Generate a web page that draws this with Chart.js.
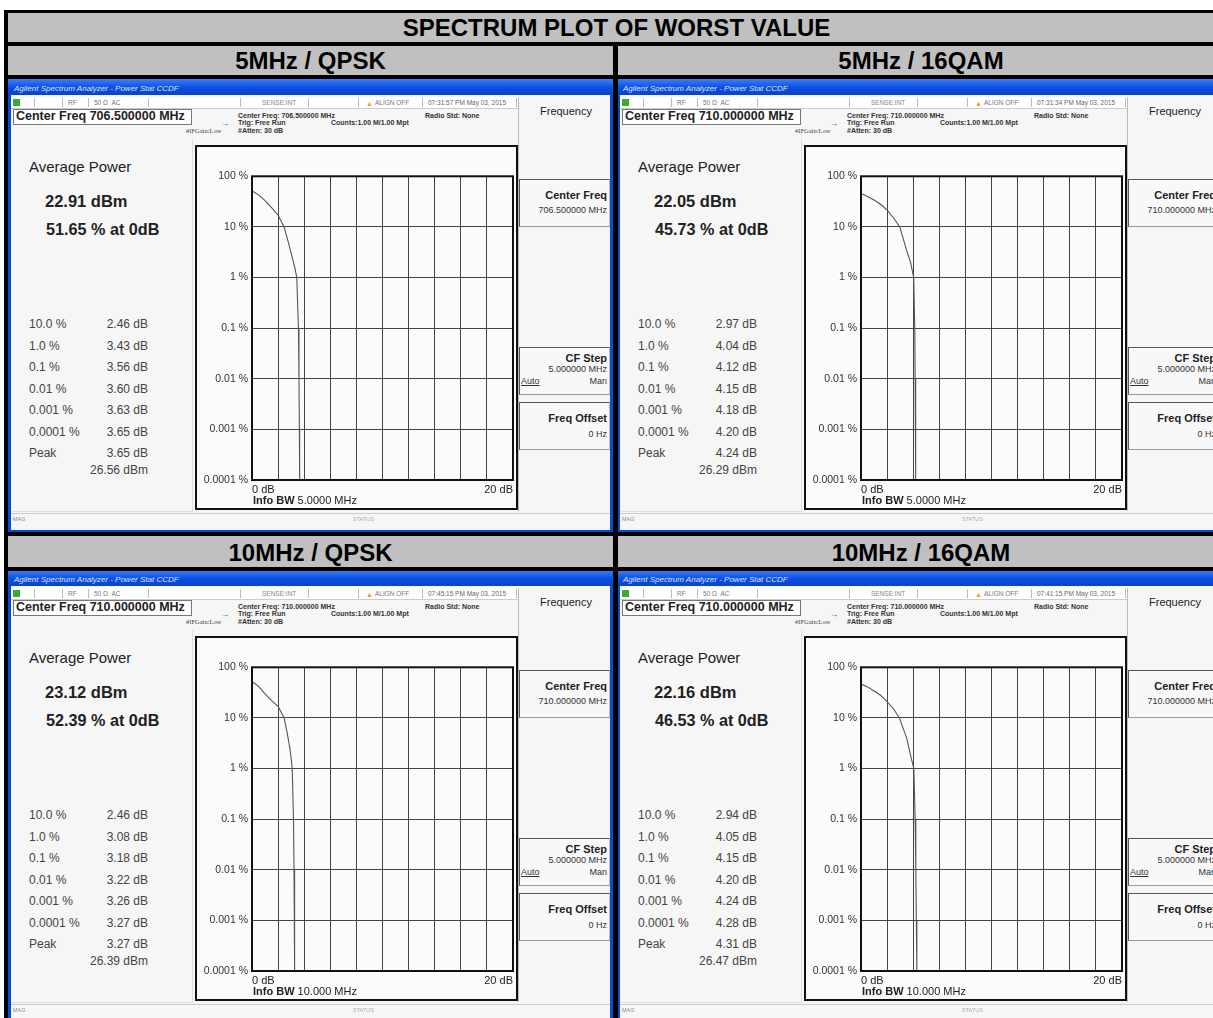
<!DOCTYPE html>
<html>
<head>
<meta charset="utf-8">
<script src="https://cdn.jsdelivr.net/npm/chart.js@4.4.1/dist/chart.umd.min.js"></script>
<style>
html, body { margin: 0; padding: 0; background: #fff; }
body { width: 1213px; height: 1018px; overflow: hidden; position: relative; font-family: "Liberation Sans", Arial, sans-serif; color: #111; }
.blk { position: absolute; background: #000; z-index: 5; }
.hdr { position: absolute; background: #c0c0c0; font-weight: bold; font-size: 24px; text-align: center; color: #000; }
.panel { position: absolute; width: 605px; height: 453px; background: #0a4ad8; overflow: hidden; }
.t { position: absolute; line-height: 1; white-space: nowrap; }
.box { position: absolute; border: 1px solid #555; border-right-color: #bbb; border-bottom-color: #999; background: #f8f8f8; }
.plotbox { position: absolute; border: 2px solid #111; background: #fbfbfb; }
.cv { position: absolute; }
</style>
</head>
<body>
<script>
const panelTitles = ["5MHz / QPSK", "5MHz / 16QAM", "10MHz / QPSK", "10MHz / 16QAM"];
const centerFreqs = ["706.500000", "710.000000", "710.000000", "710.000000"];
const timeStamps  = ["07:31:57 PM May 03, 2015", "07:31:34 PM May 03, 2015", "07:45:15 PM May 03, 2015", "07:41:15 PM May 03, 2015"];
const infoBw      = ["5.0000 MHz", "5.0000 MHz", "10.000 MHz", "10.000 MHz"];
const avgPower    = ["22.91", "22.05", "23.12", "22.16"];
const pctAt0dB    = ["51.65", "45.73", "52.39", "46.53"];
const probLabels  = ["10.0 %", "1.0 %", "0.1 %", "0.01 %", "0.001 %", "0.0001 %"];
const probDb = [
  ["2.46", "3.43", "3.56", "3.60", "3.63", "3.65"],
  ["2.97", "4.04", "4.12", "4.15", "4.18", "4.20"],
  ["2.46", "3.08", "3.18", "3.22", "3.26", "3.27"],
  ["2.94", "4.05", "4.15", "4.20", "4.24", "4.28"]
];
const peakDb  = ["3.65", "4.24", "3.27", "4.31"];
const peakDbm = ["26.56", "26.29", "26.39", "26.47"];

// CCDF traces (dB above average vs. probability %)
const traceDb = [
  [0, 0.5, 1, 1.5, 2, 2.46, 2.8, 3.1, 3.3, 3.43, 3.56, 3.60, 3.63, 3.65],
  [0, 0.5, 1, 1.5, 2, 2.5, 2.97, 3.5, 3.8, 4.04, 4.12, 4.15, 4.18, 4.20],
  [0, 0.5, 1, 1.5, 2, 2.46, 2.7, 2.9, 3.0, 3.08, 3.18, 3.22, 3.26, 3.27],
  [0, 0.5, 1, 1.5, 2, 2.5, 2.94, 3.5, 3.85, 4.05, 4.15, 4.20, 4.24, 4.28]
];
const tracePct = [
  [51.65, 43, 33, 24, 17, 10, 4.8, 2.4, 1.5, 1, 0.1, 0.01, 0.001, 0.0001],
  [45.73, 40, 34, 28, 21.5, 15, 10, 3.4, 2.0, 1, 0.1, 0.01, 0.001, 0.0001],
  [52.39, 42, 30, 22, 17, 10, 5, 2.5, 1.6, 1, 0.1, 0.01, 0.001, 0.0001],
  [46.53, 41, 34, 28, 21, 15, 10, 4, 1.6, 1, 0.1, 0.01, 0.001, 0.0001]
];

const yTickValues = [100, 10, 1, 0.1, 0.01, 0.001, 0.0001];
const yTickLabels = ["100 %", "10 %", "1 %", "0.1 %", "0.01 %", "0.001 %", "0.0001 %"];
const xTickLabels = ["0 dB", "20 dB"];

const FONT = '"Liberation Sans", Arial, sans-serif';
const panelPos = [[8, 79], [617, 79], [8, 570], [617, 570]];

// small helpers for positioned text
function txt(x, cy, s, size, extra) {
  return `<div class="t" style="left:${x}px;top:${cy - size / 2}px;font-size:${size}px;${extra || ''}">${s}</div>`;
}
function rtxt(right, cy, s, size, extra) {
  return `<div class="t" style="right:${605 - right}px;top:${cy - size / 2}px;font-size:${size}px;${extra || ''}">${s}</div>`;
}
function div(x, y, w, h, style) {
  return `<div style="position:absolute;left:${x}px;top:${y}px;width:${w}px;height:${h}px;${style}"></div>`;
}

// table frame
let html = '';
html += `<div class="hdr" style="left:8px;top:13px;width:1217px;height:29px;line-height:30px;">SPECTRUM PLOT OF WORST VALUE</div>`;
html += `<div class="hdr" style="left:8px;top:46px;width:605px;height:29px;line-height:29px;">${panelTitles[0]}</div>`;
html += `<div class="hdr" style="left:618px;top:46px;width:606px;height:29px;line-height:29px;">${panelTitles[1]}</div>`;
html += `<div class="hdr" style="left:8px;top:536px;width:605px;height:31px;line-height:33px;">${panelTitles[2]}</div>`;
html += `<div class="hdr" style="left:618px;top:536px;width:606px;height:31px;line-height:33px;">${panelTitles[3]}</div>`;

// one analyzer screenshot
function panelHtml(i) {
  let h = '';
  // window title bar
  h += div(0, 0, 605, 16, 'background:linear-gradient(#3c80f8,#0c4ee0 55%,#0a44c8);');
  h += txt(6, 10, 'Agilent Spectrum Analyzer - Power Stat CCDF', 8, 'color:#d8e4ff;font-style:italic;');
  // screen body
  h += div(3, 16, 599, 435, 'background:#f6f6f6;');
  // status line
  h += div(3, 18, 507, 11, 'background:#fff;border-bottom:1px solid #ccc;');
  h += div(5, 20, 7, 7, 'background:#3caa2c;');
  [26, 54, 80, 140, 232, 300, 350, 414, 508].forEach(x => { h += div(x, 19, 1, 9, 'background:#bbb;'); });
  h += txt(60, 24, 'RF', 6.5, 'color:#777;');
  h += txt(86, 24, '50 &Omega;&nbsp;&nbsp;AC', 6.5, 'color:#777;');
  h += txt(254, 24, 'SENSE:INT', 6.5, 'color:#888;');
  h += txt(358, 24, '&#9650;', 7, 'color:#e0a800;');
  h += txt(367, 24, 'ALIGN OFF', 6.5, 'color:#777;');
  h += txt(420, 24, timeStamps[i], 6.5, 'color:#666;');
  // center freq entry box
  h += div(5, 30, 177, 14, 'background:#fff;border:1px solid #777;');
  h += txt(8, 37.5, `Center Freq ${centerFreqs[i]} MHz`, 12.5, 'font-weight:bold;color:#222;');
  // settings text
  h += txt(230, 36, `Center Freq: ${centerFreqs[i]} MHz`, 7, 'font-weight:bold;color:#333;');
  h += txt(417, 36, 'Radio Std: None', 7, 'font-weight:bold;color:#333;');
  h += txt(230, 43.5, 'Trig: Free Run', 7, 'font-weight:bold;color:#333;');
  h += txt(323, 43.5, 'Counts:1.00 M/1.00 Mpt', 7, 'font-weight:bold;color:#333;');
  h += txt(230, 51, '#Atten: 30 dB', 7, 'font-weight:bold;color:#333;');
  h += txt(178, 52, '#IFGain:Low', 6.5, 'color:#444;font-family:serif;');
  h += txt(213, 45, '&rarr;', 8, 'color:#333;');
  // left results area
  h += div(4, 60, 180, 372, 'border-right:1px solid #ddd;border-bottom:1px solid #ddd;');
  h += txt(21, 87, 'Average Power', 15, 'color:#222;');
  h += txt(37, 122, `${avgPower[i]} dBm`, 16.5, 'font-weight:bold;color:#222;');
  h += txt(38, 150, `${pctAt0dB[i]} % at 0dB`, 16.2, 'font-weight:bold;color:#222;');
  const rowY = [245, 266.5, 288, 309.5, 331, 352.5];
  probLabels.forEach((lab, k) => {
    h += txt(21, rowY[k], lab, 12, 'color:#444;');
    h += rtxt(140, rowY[k], `${probDb[i][k]} dB`, 12, 'color:#444;');
  });
  h += txt(21, 374, 'Peak', 12, 'color:#444;');
  h += rtxt(140, 374, `${peakDb[i]} dB`, 12, 'color:#444;');
  h += rtxt(140, 391, `${peakDbm[i]} dBm`, 12, 'color:#444;');
  // plot frame
  h += `<div class="plotbox" style="left:187px;top:66px;width:319px;height:361px;"></div>`;
  h += `<div class="cv" style="left:190px;top:87px;width:318px;height:331px;"><canvas id="c${i}"></canvas></div>`;
  h += txt(245, 421, `<b>Info BW</b> ${infoBw[i]}`, 11, 'color:#222;');
  // softkey panel
  h += div(510, 18, 1, 414, 'background:#bbb;');
  h += txt(532, 32, 'Frequency', 11, 'color:#222;');
  h += `<div class="box" style="left:511px;top:100px;width:89px;height:46px;"></div>`;
  h += rtxt(599, 116, 'Center Freq', 11, 'font-weight:bold;color:#222;');
  h += rtxt(599, 131, `${centerFreqs[i]} MHz`, 9, 'color:#333;');
  h += `<div class="box" style="left:511px;top:268px;width:89px;height:46px;"></div>`;
  h += rtxt(599, 279, 'CF Step', 11, 'font-weight:bold;color:#222;');
  h += rtxt(599, 290, '5.000000 MHz', 9, 'color:#333;');
  h += txt(513, 302, 'Auto', 9, 'color:#333;text-decoration:underline;');
  h += rtxt(599, 302, 'Man', 9, 'color:#333;');
  h += `<div class="box" style="left:511px;top:323px;width:89px;height:46px;"></div>`;
  h += rtxt(599, 339, 'Freq Offset', 11, 'font-weight:bold;color:#222;');
  h += rtxt(599, 355, '0 Hz', 9, 'color:#333;');
  // bottom status bar
  h += div(3, 434, 599, 1, 'background:#ccc;');
  h += txt(5, 441, 'MAG', 5.5, 'color:#888;');
  h += txt(345, 441, 'STATUS', 5.5, 'color:#aaa;');
  return h;
}

panelPos.forEach((p, i) => {
  html += `<div class="panel" style="left:${p[0]}px;top:${p[1]}px;">${panelHtml(i)}</div>`;
});

// black table rules drawn on top
html += `<div class="blk" style="left:4px;top:10px;width:1220px;height:3px;"></div>`;
html += `<div class="blk" style="left:4px;top:10px;width:4px;height:1008px;"></div>`;
html += `<div class="blk" style="left:4px;top:42px;width:1220px;height:4px;"></div>`;
html += `<div class="blk" style="left:4px;top:75px;width:1220px;height:4px;"></div>`;
html += `<div class="blk" style="left:4px;top:532px;width:1220px;height:4px;"></div>`;
html += `<div class="blk" style="left:4px;top:567px;width:1220px;height:4px;"></div>`;
html += `<div class="blk" style="left:613px;top:42px;width:5px;height:976px;"></div>`;

document.body.insertAdjacentHTML('beforeend', html);

// frame around the plot area
const frameRect = {
  id: 'frameRect',
  afterDraw(chart) {
    const a = chart.chartArea, ctx = chart.ctx;
    ctx.save();
    ctx.strokeStyle = '#111';
    ctx.lineWidth = 2;
    ctx.strokeRect(a.left, a.top, a.right - a.left, a.bottom - a.top);
    ctx.restore();
  }
};

function yLabel(v) {
  const k = yTickValues.findIndex(t => Math.abs(Math.log10(t) - Math.log10(v)) < 1e-6);
  return k >= 0 ? yTickLabels[k] : '';
}

traceDb.forEach((xs, i) => {
  new Chart(document.getElementById('c' + i), {
    type: 'scatter',
    data: {
      datasets: [{
        data: xs.map((x, k) => ({ x: x, y: tracePct[i][k] })),
        showLine: true,
        borderColor: '#555',
        borderWidth: 1.1,
        pointRadius: 0,
        tension: 0,
        fill: false
      }]
    },
    options: {
      responsive: true,
      maintainAspectRatio: false,
      animation: false,
      layout: { padding: { top: 10, right: 2, left: 0, bottom: 0 } },
      plugins: { legend: { display: false }, tooltip: { enabled: false } },
      scales: {
        x: {
          type: 'linear', min: 0, max: 20,
          afterFit: s => { s.height = 17; },
          grid: { color: '#444', lineWidth: 1, drawTicks: false },
          border: { display: false },
          ticks: {
            stepSize: 2, autoSkip: false, maxRotation: 0, align: 'inner', padding: 3,
            color: '#222', font: { size: 11, family: FONT },
            callback: v => v === 0 ? xTickLabels[0] : (v === 20 ? xTickLabels[1] : '')
          }
        },
        y: {
          type: 'logarithmic', min: 0.0001, max: 100,
          afterFit: s => { s.width = 54; },
          afterBuildTicks: s => { s.ticks = yTickValues.map(v => ({ value: v })); },
          grid: { color: '#444', lineWidth: 1, drawTicks: false },
          border: { display: false },
          ticks: {
            padding: 4, color: '#333', font: { size: 10.5, family: FONT },
            callback: v => yLabel(v)
          }
        }
      }
    },
    plugins: [frameRect]
  });
});
</script>
</body>
</html>
